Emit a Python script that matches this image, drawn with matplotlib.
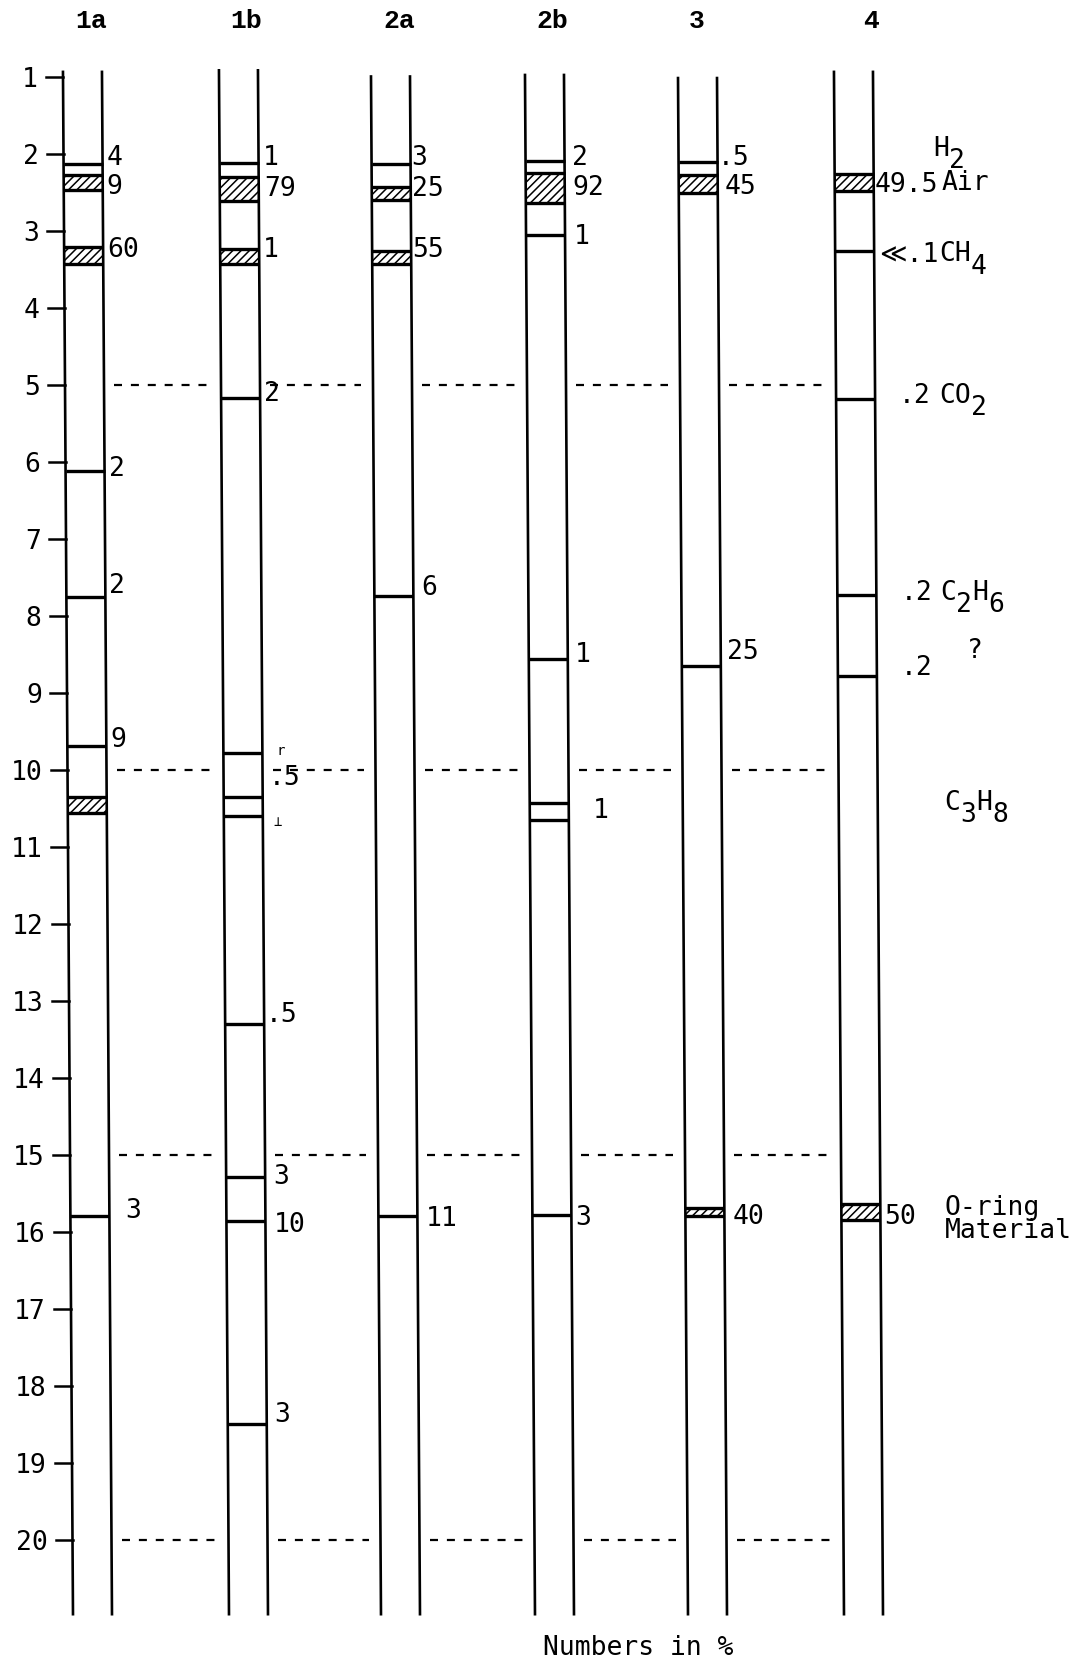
import matplotlib
matplotlib.use('Agg')
from matplotlib import pyplot as plt
from matplotlib.patches import Polygon

# Chromatogram columns - retention positions (in scale units 1-20) and % values

columns = ['1a', '1b', '2a', '2b', '3', '4']

# single peaks drawn as thin lines across the column
peaks = {
    '1a': [2.14, 6.12, 7.76, 9.69, 15.80],
    '1b': [2.12, 5.17, 9.78, 10.36, 10.60, 13.30, 15.29, 15.87, 18.50],
    '2a': [2.14, 7.75, 15.80],
    '2b': [2.10, 3.06, 8.57, 10.44, 10.65, 15.79],
    '3': [2.11, 8.66],
    '4': [3.27, 5.19, 7.74, 8.78],
}

# wide peaks drawn as hatched bands (start, end)
bands = {
    '1a': [(2.28, 2.48), (3.21, 3.44), (10.36, 10.57)],
    '1b': [(2.30, 2.62), (3.24, 3.44)],
    '2a': [(2.43, 2.60), (3.27, 3.44)],
    '2b': [(2.25, 2.64)],
    '3': [(2.28, 2.51), (15.70, 15.80)],
    '4': [(2.26, 2.49), (15.64, 15.85)],
}

# percentage labels written next to the peaks
pct_text = {
    '1a': ['4', '9', '60', '2', '2', '9', '3'],
    '1b': ['1', '79', '1', '2', 'r', '.5', '\u22a5', '.5', '3', '10', '3'],
    '2a': ['3', '25', '55', '6', '11'],
    '2b': ['2', '92', '1', '1', '1', '3'],
    '3': ['.5', '45', '25', '40'],
    '4': ['49.5', '\u226a.1', '.2', '.2', '.2', '50'],
}
pct_pos = {
    '1a': [2.02, 2.40, 3.22, 6.06, 7.58, 9.58, 15.70],
    '1b': [2.02, 2.42, 3.22, 5.08, 9.74, 10.07, 10.66, 13.15, 15.25, 15.88, 18.35],
    '2a': [2.02, 2.42, 3.22, 7.60, 15.80],
    '2b': [2.02, 2.41, 3.05, 8.47, 10.50, 15.78],
    '3': [2.02, 2.40, 8.43, 15.77],
    '4': [2.37, 3.28, 5.11, 7.67, 8.64, 15.77],
}

# compounds identified on the right
gas_names = ['H2', 'Air', 'CH4', 'CO2', 'C2H6', '?', 'C3H8']
gas_pos = [1.90, 2.35, 3.27, 5.11, 7.67, 8.42, 10.39]

y_ticks = list(range(1, 21))
divider_rows = [5, 10, 15, 20]

# ---- layout (pixels) ----
W, H = 1076, 1662
col_left = [63, 219, 371, 525, 678, 834]
col_w = 39
col_top = [0.94, 0.92, 1.0, 0.98, 1.02, 0.94]
col_bottom = 20.97
skew = 0.5          # the scan drifts right ~0.5px per unit
header_nudge = [9, 8, 9, 8, 0, 18]
label_nudge = {
    '1a': [0, 0, 0, 0, 0, 0, 12],
    '1b': [0, 2, 0, 0, 10, 2, 7, -2, 4, 4, 4],
    '2a': [-3, -3, -3, 4, 4],
    '2b': [3, 4, 5, 3, 20, 0],
    '3': [-4, 3, 2, 4],
    '4': [-3, 1, 20, 20, 20, 0],
}
gas_x = [933, 941, 938, 937, 937, 963, 940]

mono = ['DejaVu Sans Mono', 'DejaVu Sans']
fs = 19
gfs = 19


def sx(x, v):
    return x + skew * (v - 1)


fig = plt.figure(figsize=(W / 100, H / 100), dpi=100)
ax = fig.add_axes([0, 0, 1, 1])
ax.set_xlim(0, W)
ax.set_ylim(1 + (H - 76.5) / 77, 1 - 76.5 / 77)
ax.axis('off')
plt.rcParams['hatch.linewidth'] = 1.1

# scale on the left
for v in y_ticks:
    ax.plot([sx(46, v), sx(col_left[0], v)], [v, v], color='k', lw=1.8)
    ax.text(sx(38, v), v, str(v), ha='right', va='center_baseline',
            fontsize=fs, family=mono)

for i, name in enumerate(columns):
    L = col_left[i]
    R = L + col_w
    top = col_top[i]
    # column walls
    for x in (L, R):
        ax.plot([sx(x, top), sx(x, col_bottom)], [top, col_bottom],
                color='k', lw=1.9)
    ax.text(sx(L + col_w / 2 + header_nudge[i], 0.25), 0.25, name,
            ha='center', va='center_baseline', fontsize=19,
            family=['Liberation Mono', 'DejaVu Sans Mono'], weight='bold')
    for v in peaks[name]:
        ax.plot([sx(L, v), sx(R, v)], [v, v], color='k', lw=2.4,
                solid_capstyle='butt')
    for a, b in bands[name]:
        poly = Polygon([(sx(L, a), a), (sx(R, a), a), (sx(R, b), b), (sx(L, b), b)],
                       closed=True, facecolor='white', edgecolor='k', lw=0,
                       hatch='////')
        ax.add_patch(poly)
        for v in (a, b):
            ax.plot([sx(L, v), sx(R, v)], [v, v], color='k', lw=2.4,
                    solid_capstyle='butt')
    for txt, v, dx in zip(pct_text[name], pct_pos[name], label_nudge[name]):
        small = txt in ('r', '\u22a5')
        ax.text(sx(R + 4 + dx, v), v, txt, ha='left', va='center_baseline',
                fontsize=10 if small else fs, family=mono)

# dashed dividers between the columns
for v in divider_rows:
    for i in range(len(columns) - 1):
        x0 = col_left[i] + col_w + 10
        x1 = col_left[i + 1] - 12
        ax.plot([sx(x0, v), sx(x1, v)], [v, v], color='k', lw=1.6,
                linestyle=(0, (3.6, 4.0)))

# compound names; digits are dropped as full-size subscripts
char_w = gfs * 100 / 72 * 0.602
drop = 0.16
for name, v, x in zip(gas_names, gas_pos, gas_x):
    runs = []
    for k, c in enumerate(name):
        is_sub = c.isdigit()
        if runs and runs[-1][1] == is_sub:
            runs[-1][0] += c
        else:
            runs.append([c, is_sub, k])
    for txt, is_sub, k in runs:
        vv = v + drop if is_sub else v
        ax.text(sx(x + k * char_w, vv), vv, txt, ha='left', va='center_baseline',
                fontsize=gfs, family=mono)

ax.text(sx(937, 15.65), 15.65, 'O-ring', ha='left', va='center_baseline',
        fontsize=gfs, family=mono)
ax.text(sx(937, 15.96), 15.96, 'Material', ha='left', va='center_baseline',
        fontsize=gfs, family=mono)

ax.text(638, 21.37, 'Numbers in %', ha='center', va='center_baseline',
        fontsize=gfs, family=mono)

fig.savefig('out.png', dpi=100)
